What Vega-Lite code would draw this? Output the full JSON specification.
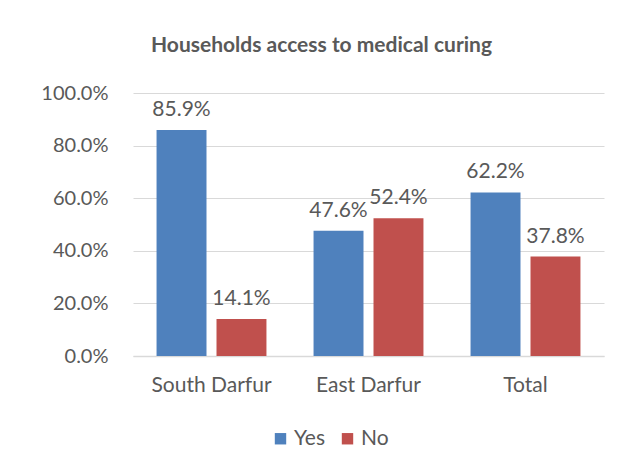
{
  "$schema": "https://vega.github.io/schema/vega-lite/v6.json",
  "autosize": "none",
  "width": 471,
  "height": 263,
  "padding": {"left": 133, "top": 93, "right": 27, "bottom": 118},
  "background": "white",
  "title": {
    "text": "Households access to medical curing",
    "font": "Lato",
    "fontSize": 21,
    "fontWeight": "bold",
    "color": "#595959",
    "anchor": "middle",
    "frame": "group",
    "dx": -47,
    "offset": 27
  },
  "data": {
    "values": [
      {"region": "South Darfur", "answer": "Yes", "pct": 0.859},
      {"region": "South Darfur", "answer": "No", "pct": 0.141},
      {"region": "East Darfur", "answer": "Yes", "pct": 0.476},
      {"region": "East Darfur", "answer": "No", "pct": 0.524},
      {"region": "Total", "answer": "Yes", "pct": 0.622},
      {"region": "Total", "answer": "No", "pct": 0.378}
    ]
  },
  "encoding": {
    "x": {
      "field": "region",
      "type": "nominal",
      "sort": ["South Darfur", "East Darfur", "Total"],
      "scale": {"paddingInner": 0.3, "paddingOuter": 0.15},
      "axis": {
        "title": null,
        "labelAngle": 0,
        "labelFont": "Lato",
        "labelFontSize": 21,
        "labelColor": "#595959",
        "labelPadding": 18,
        "ticks": false,
        "domainColor": "#d9d9d9",
        "domainWidth": 1.5
      }
    },
    "xOffset": {
      "field": "answer",
      "type": "nominal",
      "sort": ["Yes", "No"],
      "scale": {"paddingInner": 0.167, "paddingOuter": 0}
    },
    "y": {
      "field": "pct",
      "type": "quantitative",
      "scale": {"domain": [0, 1]},
      "axis": {
        "title": null,
        "format": ".1%",
        "values": [0, 0.2, 0.4, 0.6, 0.8, 1],
        "labelFont": "Lato",
        "labelFontSize": 20,
        "labelColor": "#595959",
        "labelPadding": 25,
        "ticks": false,
        "domain": false,
        "gridColor": "#d9d9d9",
        "gridWidth": 1.2
      }
    },
    "color": {
      "field": "answer",
      "type": "nominal",
      "sort": ["Yes", "No"],
      "scale": {"domain": ["Yes", "No"], "range": ["#4F81BD", "#C0504D"]},
      "legend": {
        "title": null,
        "orient": "none",
        "direction": "horizontal",
        "legendX": 137,
        "legendY": 335,
        "symbolType": "square",
        "symbolSize": 130,
        "symbolOpacity": 1,
        "symbolStrokeWidth": 0,
        "labelFont": "Lato",
        "labelFontSize": 21,
        "labelColor": "#595959",
        "labelOffset": 3,
        "columnPadding": 12
      }
    }
  },
  "layer": [
    {"mark": {"type": "bar", "opacity": 1}},
    {
      "mark": {
        "type": "text",
        "baseline": "bottom",
        "dy": -10,
        "font": "Lato",
        "fontSize": 21,
        "color": "#595959"
      },
      "encoding": {
        "text": {"field": "pct", "type": "quantitative", "format": ".1%"},
        "color": {"value": "#595959"}
      }
    }
  ],
  "config": {"view": {"stroke": null}}
}
